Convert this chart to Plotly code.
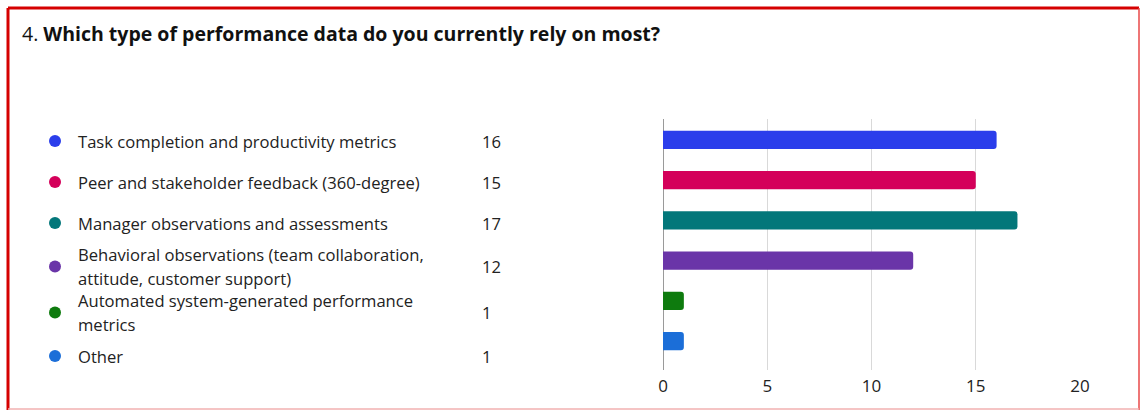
import plotly.graph_objects as go

# Survey question 4: responses per option
categories = [
    "Task completion and productivity metrics",
    "Peer and stakeholder feedback (360-degree)",
    "Manager observations and assessments",
    "Behavioral observations (team collaboration,<br>attitude, customer support)",
    "Automated system-generated performance<br>metrics",
    "Other",
]
counts = [16, 15, 17, 12, 1, 1]
colors = ["#2B3EEB", "#D4005A", "#03777A", "#6A35A8", "#0E7B0E", "#1B6ED8"]
x_ticks = [0, 5, 10, 15, 20]
title_num = "4."
title_text = "Which type of performance data do you currently rely on most?"

W, H = 1141, 412
L, R, T, B = 663, 61, 119, 42
PW, PH = W - L - R, H - T - B
FONT = "Open Sans, Noto Sans, sans-serif"
TXT = "#222222"
LABEL_SIZE = 16.6


def px(x):
    return (x - L) / PW


def py(y):
    return 1 - (y - T) / PH


fig = go.Figure(
    go.Bar(
        x=counts,
        y=list(range(len(counts))),
        orientation="h",
        marker=dict(color=colors, line=dict(width=0)),
        width=0.45,
        hoverinfo="x",
    )
)

# Legend-style list on the left: dot, wrapped label, count
annotations = []
shapes = []
y = 141
prev_half = None
for i, (label, n, c) in enumerate(zip(categories, counts, colors)):
    lines = label.split("<br>")
    half = 20.5 if len(lines) == 1 else 23
    if prev_half is not None:
        y += prev_half + half
    prev_half = half
    shapes.append(dict(type="circle", xref="paper", yref="paper",
                       x0=px(49), x1=px(61), y0=py(y - 6), y1=py(y + 6),
                       fillcolor=c, line=dict(width=0)))
    for j, ln in enumerate(lines):
        ly = y + (j - (len(lines) - 1) / 2) * 24
        annotations.append(dict(text=ln, x=px(76), y=py(ly), xref="paper", yref="paper",
                                xanchor="left", yanchor="middle", showarrow=False,
                                font=dict(family=FONT, size=LABEL_SIZE, color=TXT)))
    annotations.append(dict(text=str(n), x=px(480), y=py(y), xref="paper", yref="paper",
                            xanchor="left", yanchor="middle", showarrow=False,
                            font=dict(family=FONT, size=LABEL_SIZE, color=TXT)))

annotations.append(dict(text=f"{title_num} <b>{title_text}</b>", x=px(20), y=py(33),
                        xref="paper", yref="paper", xanchor="left", yanchor="middle",
                        showarrow=False, font=dict(family=FONT, size=19.5, color="#111111")))

# Outer red frame
red = "#D50000"
shapes += [
    dict(type="line", xref="paper", yref="paper", x0=px(8), x1=px(1139), y0=py(8), y1=py(8),
         line=dict(color=red, width=3)),
    dict(type="line", xref="paper", yref="paper", x0=px(8), x1=px(8), y0=py(8), y1=py(410),
         line=dict(color=red, width=3)),
    dict(type="line", xref="paper", yref="paper", x0=px(1139), x1=px(1139), y0=py(8), y1=py(410),
         line=dict(color="#E84848", width=1.5)),
    dict(type="line", xref="paper", yref="paper", x0=px(8), x1=px(1139), y0=py(409), y1=py(409),
         line=dict(color="#F2B0B0", width=1.5)),
]

fig.update_layout(
    width=W, height=H,
    margin=dict(l=L, r=R, t=T, b=B, pad=0),
    paper_bgcolor="white", plot_bgcolor="white",
    showlegend=False,
    barcornerradius=3,
    annotations=annotations,
    shapes=shapes,
    xaxis=dict(range=[0, 20], tickvals=x_ticks, showgrid=True, gridcolor="#D9D9D9",
               gridwidth=1, zeroline=True, zerolinecolor="#9A9A9A", zerolinewidth=1,
               showline=False, ticks="", tickfont=dict(family=FONT, size=17, color=TXT),
               ticklabelstandoff=4, fixedrange=True),
    yaxis=dict(range=[(370 - 139) / 40.4, -0.52], showticklabels=False, showgrid=False,
               zeroline=False, showline=False, ticks="", fixedrange=True),
)

fig.write_html("out.html")
